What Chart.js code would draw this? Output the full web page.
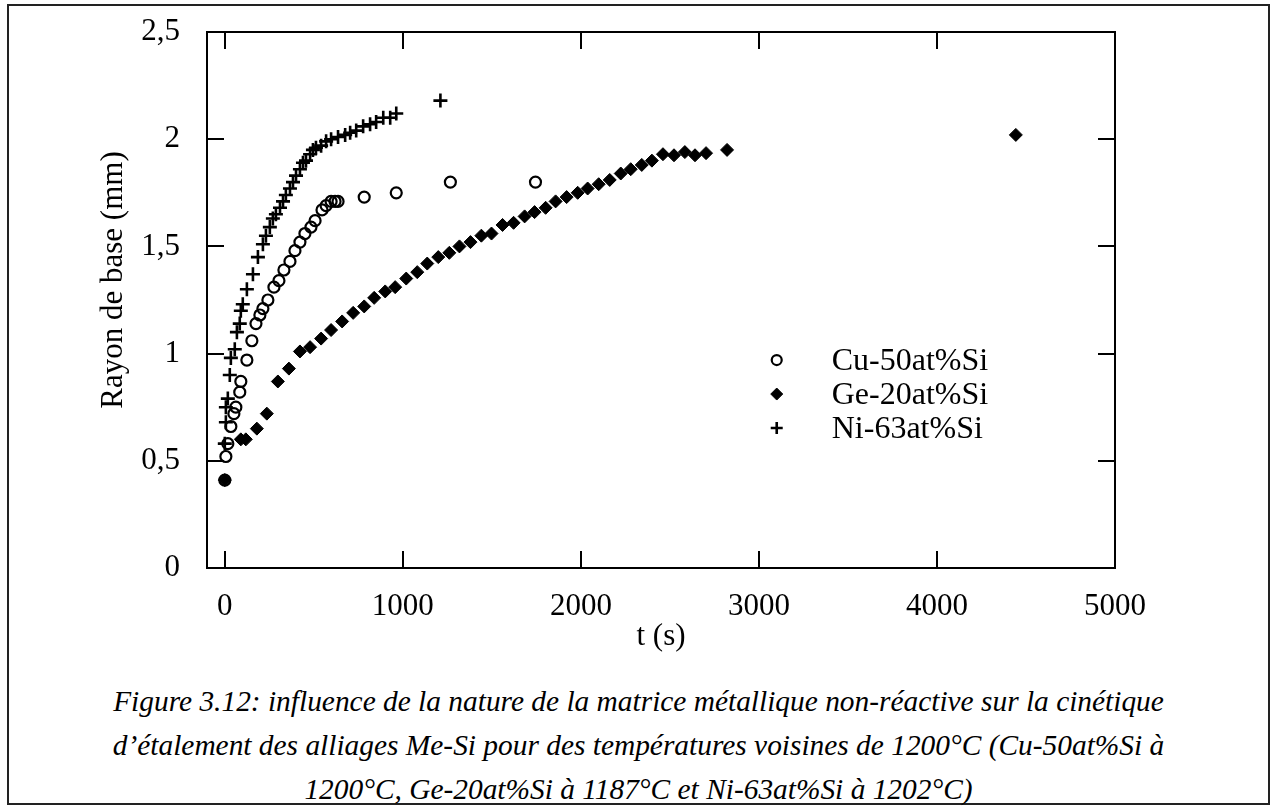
<!DOCTYPE html>
<html><head><meta charset="utf-8">
<script src="https://cdn.jsdelivr.net/npm/chart.js@4.4.1/dist/chart.umd.min.js"></script>
<style>
html,body{margin:0;padding:0;background:#fff;width:1277px;height:810px;overflow:hidden;}
#frame{position:absolute;left:7px;top:4px;width:1263px;height:801px;box-sizing:border-box;border:2px solid #222;}
#wrap{position:absolute;left:0;top:0;width:1277px;height:660px;}
#cap{position:absolute;left:7px;width:1263px;top:679px;text-align:center;font-family:"Liberation Serif","Times New Roman",serif;font-style:italic;font-size:29.4px;line-height:44px;color:#000;}
</style></head><body>
<div id="frame"></div>
<div id="wrap"><canvas id="c" width="1277" height="660"></canvas></div>
<div id="cap">Figure 3.12: influence de la nature de la matrice métallique non-réactive sur la cinétique<br>d’étalement des alliages Me-Si pour des températures voisines de 1200°C (Cu-50at%Si à<br>1200°C, Ge-20at%Si à 1187°C et Ni-63at%Si à 1202°C)</div>
<script>
// ---- data (t in s, radius in mm) ----
const seriesNames = ['Cu-50at%Si', 'Ge-20at%Si', 'Ni-63at%Si'];

const cuT = [0, 6, 17, 34, 51, 62, 84, 90, 124, 152, 175, 197, 214, 242, 276, 304, 332, 366, 394, 422, 450, 484, 507, 546, 569, 597, 619, 636, 783, 963, 1267, 1745];
const cuR = [0.41, 0.52, 0.58, 0.66, 0.72, 0.75, 0.82, 0.87, 0.97, 1.06, 1.14, 1.18, 1.21, 1.25, 1.31, 1.34, 1.39, 1.43, 1.48, 1.52, 1.56, 1.59, 1.62, 1.67, 1.69, 1.71, 1.71, 1.71, 1.73, 1.75, 1.80, 1.80];

const geT = [0, 90, 118, 180, 236, 298, 360, 422, 479, 541, 597, 659, 721, 783, 839, 901, 957, 1019, 1081, 1137, 1199, 1261, 1318, 1380, 1441, 1498, 1560, 1622, 1684, 1740, 1802, 1858, 1920, 1982, 2038, 2100, 2162, 2224, 2280, 2342, 2399, 2461, 2523, 2584, 2641, 2703, 2821, 4443];
const geR = [0.41, 0.60, 0.60, 0.65, 0.72, 0.87, 0.93, 1.01, 1.03, 1.07, 1.11, 1.15, 1.19, 1.22, 1.26, 1.29, 1.31, 1.35, 1.38, 1.42, 1.45, 1.47, 1.50, 1.52, 1.55, 1.56, 1.60, 1.61, 1.64, 1.66, 1.68, 1.71, 1.73, 1.75, 1.77, 1.79, 1.81, 1.84, 1.86, 1.88, 1.90, 1.93, 1.925, 1.94, 1.925, 1.935, 1.95, 2.02];

const niT = [0, 6, 6, 17, 28, 34, 56, 68, 84, 90, 101, 124, 158, 186, 214, 231, 253, 270, 287, 310, 327, 343, 366, 383, 400, 422, 439, 456, 479, 495, 512, 541, 569, 597, 636, 676, 704, 738, 777, 816, 850, 890, 929, 963, 1211];
const niR = [0.58, 0.68, 0.75, 0.79, 0.90, 0.98, 1.02, 1.10, 1.14, 1.20, 1.23, 1.30, 1.37, 1.45, 1.51, 1.55, 1.59, 1.63, 1.65, 1.68, 1.71, 1.74, 1.77, 1.80, 1.83, 1.86, 1.89, 1.90, 1.93, 1.95, 1.96, 1.97, 1.99, 2.00, 2.01, 2.02, 2.03, 2.04, 2.06, 2.07, 2.08, 2.10, 2.10, 2.12, 2.18];

const xTickValues = [0, 1000, 2000, 3000, 4000, 5000];
const xTickLabels = ['0', '1000', '2000', '3000', '4000', '5000'];
const yTickValues = [0, 0.5, 1, 1.5, 2, 2.5];
const yTickLabels = ['0', '0,5', '1', '1,5', '2', '2,5'];
const xTitle = 't (s)';
const yTitle = 'Rayon de base (mm)';

// ---- build ----
const pts = (xs, ys) => xs.map((x, i) => ({x: x, y: ys[i]}));
const FONT = '"Liberation Serif","Times New Roman",serif';

const framePlugin = {
  id: 'framePlugin',
  afterDatasetsDraw(chart) {
    const {ctx, chartArea: a, scales: {x, y}} = chart;
    ctx.save();
    ctx.strokeStyle = '#000';
    ctx.lineWidth = 2;
    ctx.strokeRect(a.left, a.top, a.right - a.left, a.bottom - a.top);
    const L = 17;
    ctx.beginPath();
    xTickValues.forEach(v => {
      const px = Math.round(x.getPixelForValue(v));
      ctx.moveTo(px, a.bottom); ctx.lineTo(px, a.bottom - L);
      ctx.moveTo(px, a.top); ctx.lineTo(px, a.top + L);
    });
    yTickValues.forEach(v => {
      const py = Math.round(y.getPixelForValue(v));
      ctx.moveTo(a.left, py); ctx.lineTo(a.left + L, py);
      ctx.moveTo(a.right, py); ctx.lineTo(a.right - L, py);
    });
    ctx.stroke();

    // y axis title
    ctx.fillStyle = '#000';
    ctx.font = '31px ' + FONT;
    ctx.textAlign = 'center';
    ctx.textBaseline = 'middle';
    ctx.translate(a.left - 93, (a.top + a.bottom) / 2 - 20);
    ctx.rotate(-Math.PI / 2);
    ctx.fillText(yTitle, 0, 0);
    ctx.restore();

    // legend
    ctx.save();
    const lx = x.getPixelForValue(3100), ly0 = y.getPixelForValue(0.97);
    const rowH = 34;
    chart.data.datasets.forEach((ds, i) => {
      const cy = ly0 + i * rowH;
      ctx.fillStyle = ds.pointBackgroundColor;
      ctx.strokeStyle = ds.pointBorderColor;
      ctx.lineWidth = ds.pointBorderWidth;
      Chart.helpers.drawPoint(ctx, {pointStyle: ds.pointStyle, radius: ds.legendRadius, rotation: 0, borderWidth: ds.pointBorderWidth}, lx, cy);
      ctx.fillStyle = '#000';
      ctx.font = '32px ' + FONT;
      ctx.textAlign = 'left';
      ctx.textBaseline = 'alphabetic';
      ctx.fillText(ds.label, lx + 55, cy + 10);
    });
    ctx.restore();
  }
};

new Chart(document.getElementById('c'), {
  type: 'scatter',
  data: {
    datasets: [
      {label: seriesNames[0], data: pts(cuT, cuR), pointStyle: 'circle', pointRadius: 5.5, legendRadius: 5,
       pointBorderWidth: 2.2, pointBorderColor: '#000', pointBackgroundColor: 'rgba(255,255,255,0)', borderColor: '#000', backgroundColor: 'rgba(255,255,255,0)'},
      {label: seriesNames[1], data: pts(geT, geR), pointStyle: 'rectRot', pointRadius: 6.5, legendRadius: 6,
       pointBorderWidth: 1, pointBorderColor: '#000', pointBackgroundColor: '#000', borderColor: '#000', backgroundColor: '#000'},
      {label: seriesNames[2], data: pts(niT, niR), pointStyle: 'cross', pointRadius: 7, legendRadius: 6,
       pointBorderWidth: 2.6, pointBorderColor: '#000', pointBackgroundColor: '#000', borderColor: '#000', backgroundColor: '#000'}
    ]
  },
  options: {
    responsive: false,
    animation: false,
    events: [],
    layout: {padding: {left: 0, top: 32, right: 162, bottom: 0}},
    plugins: {legend: {display: false}, tooltip: {enabled: false}},
    scales: {
      x: {
        type: 'linear', min: -100, max: 5000,
        afterBuildTicks: s => { s.ticks = xTickValues.map(v => ({value: v})); },
        afterFit: s => { s.height = 92; s.paddingLeft = 0; s.paddingRight = 0; },
        grid: {display: false, drawTicks: false},
        border: {display: false},
        ticks: {color: '#000', font: {family: FONT, size: 31}, padding: 20, maxRotation: 0, autoSkip: false,
          callback: v => xTickLabels[xTickValues.indexOf(v)]},
        title: {display: true, text: xTitle, color: '#000', font: {family: FONT, size: 31}, padding: {top: 0, bottom: 5}}
      },
      y: {
        type: 'linear', min: 0, max: 2.5,
        afterBuildTicks: s => { s.ticks = yTickValues.map(v => ({value: v})); },
        afterFit: s => { s.width = 207; s.paddingTop = 0; s.paddingBottom = 0; },
        grid: {display: false, drawTicks: false},
        border: {display: false},
        ticks: {color: '#000', font: {family: FONT, size: 31}, padding: 27, autoSkip: false,
          callback: v => yTickLabels[yTickValues.indexOf(v)]}
      }
    }
  },
  plugins: [framePlugin]
});
</script>
</body></html>
